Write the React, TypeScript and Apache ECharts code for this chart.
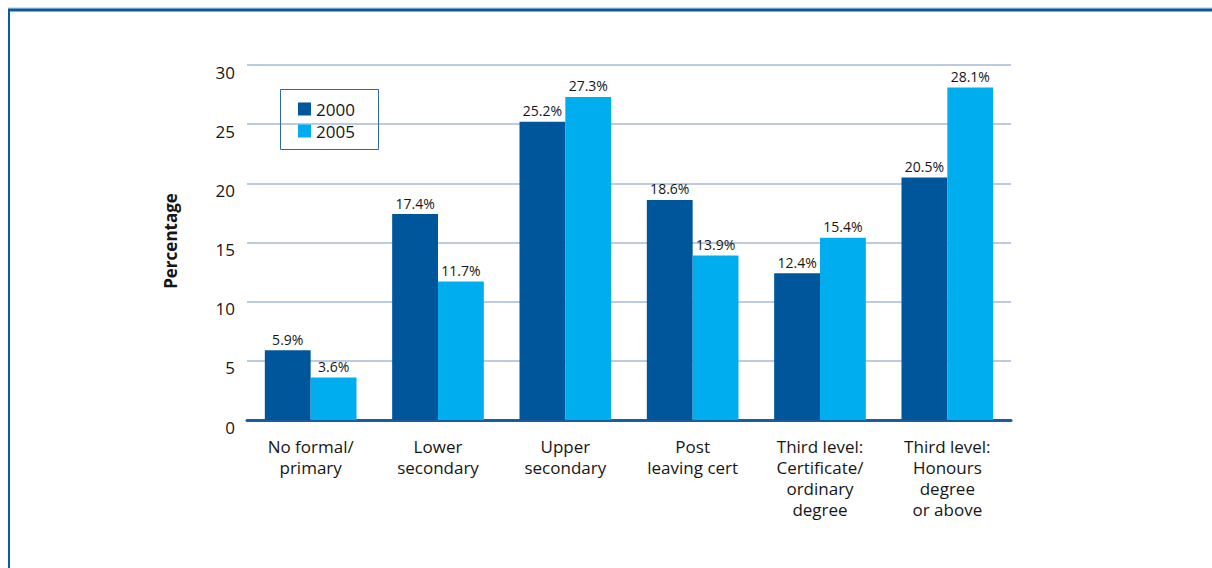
import React, { useEffect, useRef } from "react";
import * as echarts from "echarts";

const categories = [
  "No formal/\nprimary",
  "Lower\nsecondary",
  "Upper\nsecondary",
  "Post\nleaving cert",
  "Third level:\nCertificate/\nordinary\ndegree",
  "Third level:\nHonours\ndegree\nor above",
];
const series2000 = [5.9, 17.4, 25.2, 18.6, 12.4, 20.5];
const series2005 = [3.6, 11.7, 27.3, 13.9, 15.4, 28.1];
const seriesNames = ["2000", "2005"];

const FONT = "'Open Sans', 'Noto Sans', sans-serif";
const TXT = "#161616";

export default function App() {
  const ref = useRef<HTMLDivElement>(null);
  useEffect(() => {
    document.body.style.margin = "0";
    const chart = echarts.init(ref.current!, null, { renderer: "svg" });
    const label = {
      show: true,
      position: "top",
      distance: 4,
      formatter: "{c}%",
      fontSize: 14,
      color: TXT,
      fontFamily: FONT,
    };
    chart.setOption({
      animation: false,
      backgroundColor: "#ffffff",
      textStyle: { fontFamily: FONT },
      grid: { left: 247, right: 201, top: 65, bottom: 148 },
      legend: {
        left: 293,
        top: 94,
        orient: "vertical",
        data: seriesNames,
        icon: "rect",
        itemWidth: 13,
        itemHeight: 13,
        itemGap: 2,
        textStyle: {
          fontSize: 17,
          lineHeight: 20,
          color: TXT,
          fontFamily: FONT,
        },
      },
      graphic: [
        {
          type: "rect",
          shape: { x: 280.5, y: 89.5, width: 98, height: 60 },
          style: { fill: "none", stroke: "#2a6aa8", lineWidth: 1 },
          z: 10,
        },
        {
          type: "line",
          shape: { x1: 8, y1: 8, x2: 1212, y2: 8 },
          style: { stroke: "#a9c1dd", lineWidth: 1 },
        },
        {
          type: "line",
          shape: { x1: 8, y1: 10, x2: 1212, y2: 10 },
          style: { stroke: "#0a5aa0", lineWidth: 3 },
        },
        {
          type: "line",
          shape: { x1: 9, y1: 9, x2: 9, y2: 568 },
          style: { stroke: "#0a5aa0", lineWidth: 2 },
        },
        {
          type: "text",
          x: 170,
          y: 241,
          rotation: Math.PI / 2,
          style: {
            text: "Percentage",
            fontSize: 17,
            fontWeight: "bold",
            fill: TXT,
            fontFamily: FONT,
            align: "center",
            verticalAlign: "middle",
          },
        },
      ],
      xAxis: {
        type: "category",
        data: categories,
        axisLine: { lineStyle: { color: "#1a5c9e", width: 3 } },
        axisTick: { show: false },
        axisLabel: {
          fontSize: 17,
          color: TXT,
          lineHeight: 21,
          margin: 16,
          interval: 0,
          fontFamily: FONT,
        },
      },
      yAxis: {
        type: "value",
        min: 0,
        max: 30,
        interval: 5,
        axisLine: { show: false },
        axisTick: { show: false },
        axisLabel: {
          fontSize: 17,
          color: TXT,
          margin: 12,
          fontFamily: FONT,
          verticalAlign: "top",
          lineHeight: 14,
        },
        splitLine: { lineStyle: { color: "#a6b8d8", width: 1.5 } },
      },
      series: [
        {
          name: seriesNames[0],
          type: "bar",
          data: series2000,
          barGap: "0%",
          barCategoryGap: "28%",
          itemStyle: { color: "#00569b" },
          label,
        },
        {
          name: seriesNames[1],
          type: "bar",
          data: series2005,
          itemStyle: { color: "#00aeef" },
          label,
        },
      ],
    });
    return () => chart.dispose();
  }, []);
  return <div ref={ref} style={{ width: 1212, height: 568 }} />;
}
